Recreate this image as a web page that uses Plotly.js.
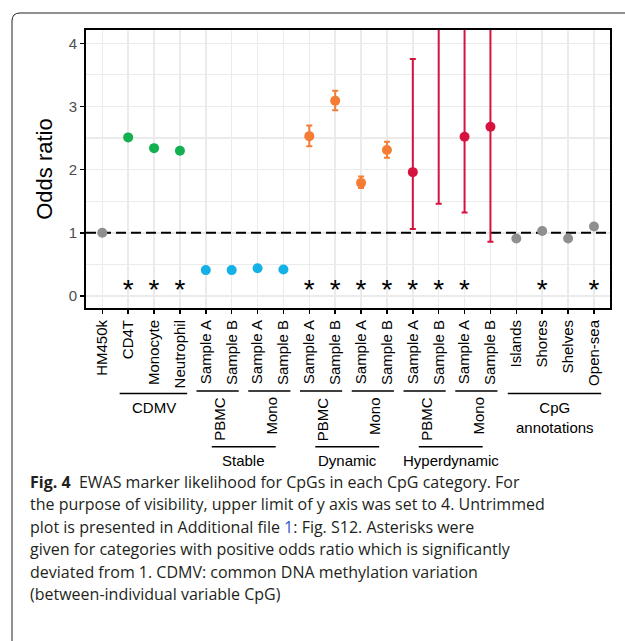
<!DOCTYPE html>
<html>
<head>
<meta charset="utf-8">
<script src="https://cdn.plot.ly/plotly-3.0.1.min.js"></script>
<style>html,body{margin:0;padding:0;background:#fff;}#chart{width:625px;height:641px;}</style>
</head>
<body>
<div id="chart"></div>
<script>
// ---------- data ----------
const tickLabels = ["HM450k","CD4T","Monocyte","Neutrophil",
  "Sample A","Sample B","Sample A","Sample B",
  "Sample A","Sample B","Sample A","Sample B",
  "Sample A","Sample B","Sample A","Sample B",
  "Islands","Shores","Shelves","Open-sea"];
const categoryClass = ["base","CDMV","CDMV","CDMV",
  "Stable","Stable","Stable","Stable",
  "Dynamic","Dynamic","Dynamic","Dynamic",
  "Hyperdynamic","Hyperdynamic","Hyperdynamic","Hyperdynamic",
  "base","base","base","base"];
const oddsRatio = [1.00,2.51,2.34,2.30, 0.41,0.41,0.44,0.42, 2.53,3.09,1.79,2.31, 1.96,5.20,2.52,2.68, 0.91,1.03,0.91,1.10];
const ciLower   = [0.99,2.49,2.32,2.28, 0.40,0.40,0.43,0.41, 2.37,2.94,1.71,2.19, 1.06,1.46,1.32,0.86, 0.90,1.02,0.90,1.09];
const ciUpper   = [1.01,2.53,2.36,2.32, 0.42,0.42,0.45,0.43, 2.70,3.25,1.89,2.44, 3.75,9.50,6.40,7.80, 0.92,1.04,0.92,1.11];
const significant = [false,true,true,true, false,false,false,false, true,true,true,true, true,true,true,false, false,true,false,true];
const nullOddsRatio = 1;

const topGroupLabels = ["CDMV","CpG<br>annotations"];
const topGroupStart = [1,16];
const topGroupEnd = [3,19];
const subgroupLabels = ["PBMC","Mono","PBMC","Mono","PBMC","Mono"];
const subgroupStart = [4,6,8,10,12,14];
const subgroupEnd = [5,7,9,11,13,15];
const groupLabels = ["Stable","Dynamic","Hyperdynamic"];
const groupStart = [4,8,12];
const groupEnd = [7,11,15];

const classColors = {base:"#8F8F8F", CDMV:"#12B04F", Stable:"#14B1E7", Dynamic:"#F47C34", Hyperdynamic:"#D6123F"};

// ---------- geometry helpers (pixels -> paper) ----------
const W=625,H=641, ML=86, MR=15, MT=30, MB=333;
const PW=W-ML-MR, PH=H-MT-MB;
const px=x=>(x-ML)/PW, py=y=>(H-MB-y)/PH;
const X_RANGE=[-0.63,19.62], Y_RANGE=[-0.19,4.21];

const FONT="Liberation Sans, Arial, Helvetica, sans-serif";
const STAR_Y=0.07;

// ---------- traces ----------
const idx = tickLabels.map((_,i)=>i);
const traces=[];
// reference line at odds ratio = 1 (under the points, above the grid)
traces.push({type:"scatter", mode:"lines", x:X_RANGE, y:[nullOddsRatio,nullOddsRatio],
  line:{color:"#000", width:2, dash:"10px,5px"}, hoverinfo:"skip", showlegend:false});
["base","CDMV","Stable","Dynamic","Hyperdynamic"].forEach(cls=>{
  const ii = idx.filter(i=>categoryClass[i]===cls);
  traces.push({
    type:"scatter", mode:"markers",
    x: ii, y: ii.map(i=>oddsRatio[i]),
    marker:{color:classColors[cls], size:10},
    error_y:{type:"data", symmetric:false,
      array: ii.map(i=>ciUpper[i]-oddsRatio[i]),
      arrayminus: ii.map(i=>oddsRatio[i]-ciLower[i]),
      color:classColors[cls], thickness:2, width:3},
    hoverinfo:"x+y", showlegend:false
  });
});
const sig = idx.filter(i=>significant[i]);
traces.push({
  type:"scatter", mode:"text",
  x: sig, y: sig.map(()=>STAR_Y),
  text: sig.map(()=>"*"),
  textposition:"middle center",
  textfont:{family:FONT, size:28, color:"#000"},
  hoverinfo:"skip", showlegend:false
});

// ---------- shapes & annotations ----------
const shapes=[
  {type:"path", xref:"paper", yref:"paper",
   path:`M ${px(12)} ${py(660)} L ${px(12)} ${py(21)} Q ${px(12)} ${py(13)} ${px(20)} ${py(13)} L ${px(640)} ${py(13)}`,
   line:{color:"#222", width:1}}
];
const annotations=[];
const lineShape=(x0,x1,yy)=>({type:"line", xref:"x", yref:"paper", x0:x0, x1:x1, y0:py(yy), y1:py(yy), line:{color:"#000", width:1.5}});

topGroupLabels.forEach((lab,k)=>{
  const a=topGroupStart[k], b=topGroupEnd[k];
  shapes.push(lineShape(a-0.33, b+0.28, 393.5));
  annotations.push({xref:"x", yref:"paper", x:(a+b)/2, y:py(397), yanchor:"top", showarrow:false,
    text:lab, font:{family:FONT, size:15, color:"#000"}, align:"center"});
});
subgroupLabels.forEach((lab,k)=>{
  const a=subgroupStart[k], b=subgroupEnd[k];
  shapes.push(lineShape(a-0.36, b+0.27, 391));
  annotations.push({xref:"x", yref:"paper", x:(a+b)/2, y:py(395), yanchor:"top", showarrow:false,
    textangle:-90, text:lab, font:{family:FONT, size:15, color:"#000"}});
});
groupLabels.forEach((lab,k)=>{
  const a=groupStart[k], b=groupEnd[k];
  shapes.push(lineShape(a+0.23, b-0.3, 446.7));
  annotations.push({xref:"x", yref:"paper", x:(a+b)/2-0.03, y:py(450), yanchor:"top", showarrow:false,
    text:lab, font:{family:FONT, size:15, color:"#000"}});
});

// caption
const captionLines = [
  "<b>Fig. 4</b>\u00A0\u00A0EWAS marker likelihood for CpGs in each CpG category. For",
  "the purpose of visibility, upper limit of y axis was set to 4. Untrimmed",
  "plot is presented in Additional file <span style='color:#2F55D4'>1</span>: Fig. S12. Asterisks were",
  "given for categories with positive odds ratio which is significantly",
  "deviated from 1. CDMV: common DNA methylation variation",
  "(between-individual variable CpG)"
];
captionLines.forEach((t,k)=>{
  annotations.push({xref:"paper", yref:"paper", x:px(28), y:py(482+22.4*k), xanchor:"left", yanchor:"middle",
    showarrow:false, text:t, font:{family:"Open Sans, sans-serif", size:16, color:"#231F20"}, align:"left"});
});

const layout={
  width:W, height:H,
  margin:{l:ML, r:MR, t:MT, b:MB, pad:0},
  paper_bgcolor:"#fff", plot_bgcolor:"#fff",
  font:{family:FONT, color:"#000"},
  showlegend:false,
  xaxis:{
    range:X_RANGE, tickmode:"array", tickvals:idx, ticktext:tickLabels,
    tickangle:-90, tickfont:{family:FONT, size:15, color:"#000"},
    ticks:"outside", ticklen:4, tickwidth:1.5, tickcolor:"#000",
    showgrid:true, gridcolor:"#EBEBEB", gridwidth:1.5,
    showline:true, linecolor:"#000", linewidth:2, mirror:true,
    zeroline:false, fixedrange:true, automargin:false
  },
  yaxis:{
    range:Y_RANGE, tickvals:[0,1,2,3,4],
    tickfont:{family:FONT, size:15, color:"#4D4D4D"},
    ticks:"outside", ticklen:4, tickwidth:1.5, tickcolor:"#000",
    showgrid:true, gridcolor:"#EBEBEB", gridwidth:1.5,
    minor:{tickvals:[0.5,1.5,2.5,3.5], showgrid:true, gridcolor:"#EBEBEB", gridwidth:1.2, ticks:""},
    showline:true, linecolor:"#000", linewidth:2, mirror:true,
    zeroline:false, fixedrange:true, automargin:false,
    title:{text:"Odds ratio", font:{family:FONT, size:22, color:"#000"}, standoff:10}
  },
  shapes:shapes,
  annotations:annotations
};

Plotly.newPlot("chart", traces, layout, {displayModeBar:false, staticPlot:true});
</script>
</body>
</html>
